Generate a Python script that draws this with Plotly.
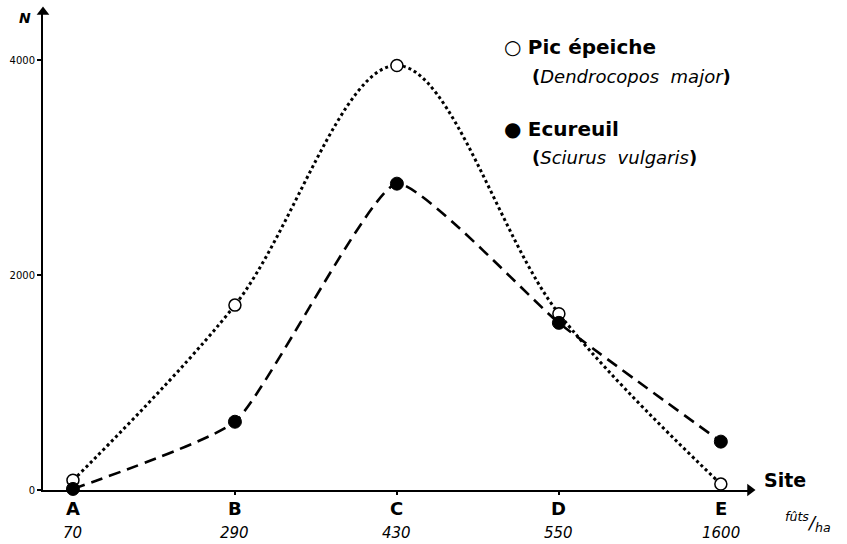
import plotly.graph_objects as go

# ---- data ----
sites = ["A", "B", "C", "D", "E"]
densities = ["70", "290", "430", "550", "1600"]
pic_epeiche = [90, 1720, 3950, 1640, 55]
ecureuil = [10, 635, 2850, 1555, 450]
y_tick_vals = [0, 2000, 4000]
y_tick_text = ["0", "2000", "4000"]

W, H = 847, 544
ML, MR, MT, MB = 43, 97, 12, 54
PW, PH = W - ML - MR, H - MT - MB
XR = [-0.185, 4.18]
YR = [0, 4447]


def px(xp):
    return (xp - ML) / PW


def py(yp):
    return (H - MB - yp) / PH


FONT = "DejaVu Sans"
xs = list(range(len(sites)))

fig = go.Figure()
fig.add_trace(go.Scatter(
    x=xs, y=pic_epeiche, mode="lines",
    line=dict(color="black", width=3, dash="dot", shape="spline", smoothing=1.0),
    cliponaxis=False, showlegend=False, hoverinfo="skip"))
fig.add_trace(go.Scatter(
    x=xs, y=ecureuil, mode="lines",
    line=dict(color="black", width=2.6, dash="12px,7px", shape="spline", smoothing=0.45),
    cliponaxis=False, showlegend=False, hoverinfo="skip"))
fig.add_trace(go.Scatter(
    x=xs, y=pic_epeiche, mode="markers",
    marker=dict(symbol="circle", size=12, color="white", line=dict(color="black", width=1.5)),
    cliponaxis=False, showlegend=False))
fig.add_trace(go.Scatter(
    x=xs, y=ecureuil, mode="markers",
    marker=dict(symbol="circle", size=13, color="black", line=dict(color="black", width=1)),
    cliponaxis=False, showlegend=False))
# axis arrowheads
fig.add_trace(go.Scatter(
    x=[XR[0], XR[1]], y=[YR[1], 0], mode="markers",
    marker=dict(symbol=["triangle-up", "triangle-right"], size=11, color="black"),
    cliponaxis=False, showlegend=False, hoverinfo="skip"))

ann = []
for i, (s, d) in enumerate(zip(sites, densities)):
    ann.append(dict(x=i, y=0, xref="x", yref="y", text=f"<b>{s}</b>", showarrow=False,
                    xanchor="center", yanchor="top", yshift=-6,
                    font=dict(family=FONT, size=18, color="black")))
    ann.append(dict(x=i, y=0, xref="x", yref="y", text=f"<i>{d}</i>", showarrow=False,
                    xanchor="center", yanchor="top", yshift=-32,
                    font=dict(family=FONT, size=15, color="black")))

# axis titles
ann.append(dict(x=px(25), y=py(18), xref="paper", yref="paper", text="<b><i>N</i></b>",
                xanchor="center", yanchor="middle",
                showarrow=False, font=dict(family=FONT, size=14, color="black")))
ann.append(dict(x=px(785), y=py(480), xref="paper", yref="paper", text="<b>Site</b>",
                xanchor="center", yanchor="middle",
                showarrow=False, font=dict(family=FONT, size=19, color="black")))
ann.append(dict(x=px(808), y=py(522), xref="paper", yref="paper",
                text="<i><sup>fûts</sup>/<sub>ha</sub></i>", xanchor="center", yanchor="middle",
                showarrow=False, font=dict(family=FONT, size=18, color="black")))

# legend texts
ann.append(dict(x=px(502), y=py(47), xref="paper", yref="paper", xanchor="left",
                yanchor="middle", text="○ <b>Pic épeiche</b>", showarrow=False,
                font=dict(family=FONT, size=20, color="black")))
ann.append(dict(x=px(530), y=py(76), xref="paper", yref="paper", xanchor="left",
                yanchor="middle", text="<b>(</b><i>Dendrocopos  major</i><b>)</b>",
                showarrow=False, font=dict(family=FONT, size=18, color="black")))
ann.append(dict(x=px(502), y=py(129), xref="paper", yref="paper", xanchor="left",
                yanchor="middle", text="● <b>Ecureuil</b>", showarrow=False,
                font=dict(family=FONT, size=20, color="black")))
ann.append(dict(x=px(530), y=py(158), xref="paper", yref="paper", xanchor="left",
                yanchor="middle", text="<b>(</b><i>Sciurus  vulgaris</i><b>)</b>",
                showarrow=False, font=dict(family=FONT, size=18, color="black")))

fig.update_layout(
    width=W, height=H,
    margin=dict(l=ML, r=MR, t=MT, b=MB, autoexpand=False),
    paper_bgcolor="white", plot_bgcolor="white",
    showlegend=False,
    annotations=ann,
    xaxis=dict(range=XR, showgrid=False, zeroline=False, showline=True, automargin=False,
               linecolor="black", linewidth=2, tickvals=[1, 2, 3], ticks="outside",
               ticklen=3, tickwidth=2, tickcolor="black", showticklabels=False),
    yaxis=dict(range=YR, showgrid=False, zeroline=False, showline=True, automargin=False,
               linecolor="black", linewidth=2, tickvals=y_tick_vals, ticktext=y_tick_text,
               ticks="outside", ticklen=4, tickwidth=1.5, tickcolor="black",
               tickfont=dict(family=FONT, size=10, color="black")),
)

fig.write_html("out.html", config={"displayModeBar": False},
               post_script="document.body.style.margin='0';document.body.style.overflow='hidden';")
